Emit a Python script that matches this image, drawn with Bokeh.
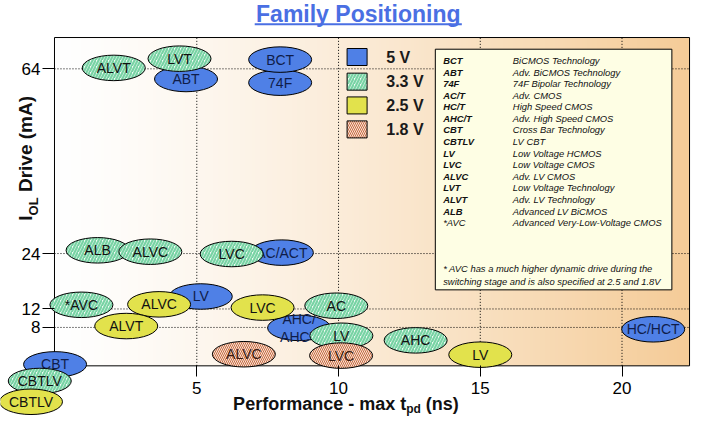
import numpy as np
from bokeh.plotting import figure
from bokeh.models import Range1d, FixedTicker, ColumnDataSource
from bokeh.core.properties import value
from bokeh.embed import file_html
from bokeh.resources import INLINE

# ---------------- data ----------------
TITLE = "Family Positioning"
X_TICKS = [5, 10, 15, 20]
Y_TICKS = [8, 12, 24, 64]
VOLTAGES = ["5 V", "3.3 V", "2.5 V", "1.8 V"]

FAM_5V = ["74F", "BCT", "ABT", "AC/ACT", "LV", "AHC/\nAHCT", "HC/HCT", "CBT"]
TPD_5V = [7.94, 7.94, 4.62, 8.0, 5.14, 8.61, 21.1, 0.0]
IOL_5V = [61.0, 66.0, 61.8, 24.2, 14.7, 7.9, 7.6, 0.0]

FAM_33V = ["ALVT", "LVT", "ALB", "ALVC", "LVC", "*AVC", "AC", "LV", "AHC", "CBTLV"]
TPD_33V = [2.07, 4.39, 1.50, 3.36, 6.23, 0.93, 9.92, 10.1, 12.72, -0.54]
IOL_33V = [64.2, 66.2, 24.7, 24.4, 23.9, 12.9, 12.7, 6.2, 5.2, -3.6]

FAM_25V = ["ALVC", "ALVT", "LVC", "LV", "CBTLV"]
TPD_25V = [3.67, 2.51, 7.32, 15.0, -0.85]
IOL_25V = [13.0, 8.3, 12.3, 2.1, -8.1]

FAM_18V = ["ALVC", "LVC"]
TPD_18V = [6.66, 10.09]
IOL_18V = [2.2, 1.9]

ABBREV = ["BCT", "ABT", "74F", "AC/T", "HC/T", "AHC/T", "CBT", "CBTLV", "LV", "LVC",
          "ALVC", "LVT", "ALVT", "ALB"]
ABBREV_NOTE = ["*AVC"]
MEANING = ["BiCMOS Technology", "Adv. BiCMOS Technology", "74F Bipolar Technology",
           "Adv. CMOS", "High Speed CMOS", "Adv. High Speed CMOS", "Cross Bar Technology",
           "LV CBT", "Low Voltage HCMOS", "Low Voltage CMOS", "Adv. LV CMOS",
           "Low Voltage Technology", "Adv. LV Technology", "Advanced LV BiCMOS",
           "Advanced Very-Low-Voltage CMOS"]
NOTE = ["* AVC has a much higher dynamic drive during the",
        "switching stage and is also specified at 2.5 and 1.8V"]
X_TITLE = ["Performance - max t", "pd", "(ns)"]
Y_TITLE = ["I", "OL", "Drive (mA)"]

# ---------------- layout helpers ----------------
W, H = 691, 416
REF_W, REF_H = 704, 427
KY = H / REF_H


def DX(rx):  # reference-picture px -> data x
    return (rx - 55.6) / 28.88


def DY(ry):  # reference-picture px -> data y
    return (373.5 - ry) / 4.74


BOX_L, BOX_R, BOX_T, BOX_B = DX(55), DX(702), DY(38), DY(375)
FONT = "Liberation Sans"
EW, EH = 63, 25.5

STYLES = {
    "5 V": dict(fill_color="#4f80e6"),
    "3.3 V": dict(fill_color="#f2fbf6", hatch_pattern="/", hatch_color="#78d3a4",
                  hatch_scale=6, hatch_weight=2.2),
    "2.5 V": dict(fill_color="#e2e24c"),
    "1.8 V": dict(fill_color="#fbe3d2", hatch_pattern="\\", hatch_color="#c46a45",
                  hatch_scale=4, hatch_weight=1),
}
TEXT_COL = {"5 V": "#0f1d4a", "3.3 V": "#111111", "2.5 V": "#111111", "1.8 V": "#3a1a10"}

p = figure(width=W, height=H, output_backend="svg", toolbar_location=None,
           x_range=Range1d(DX(0), DX(REF_W)), y_range=Range1d(DY(REF_H), DY(0)),
           min_border=0, min_border_left=0, min_border_right=0, min_border_top=0,
           min_border_bottom=0, background_fill_color="white",
           border_fill_color="white", outline_line_color=None)
p.grid.visible = False

# gradient plot-area background
n = 256
t = np.linspace(0, 1, n) ** 1.25
c0 = np.array([255, 255, 255]); c1 = np.array([245, 204, 152])
rgb = (c0[None, :] * (1 - t[:, None]) + c1[None, :] * t[:, None]).astype(np.uint32)
img = np.zeros((1, n), dtype=np.uint32)
img[0, :] = (255 << 24) | (rgb[:, 2] << 16) | (rgb[:, 1] << 8) | rgb[:, 0]
p.image_rgba(image=[img], x=BOX_L, y=BOX_B, dw=BOX_R - BOX_L, dh=BOX_T - BOX_B)

# dotted grid lines, limited to the plot box
p.segment(x0=X_TICKS, x1=X_TICKS, y0=[BOX_B] * len(X_TICKS), y1=[BOX_T] * len(X_TICKS),
          line_color="black", line_dash="1 2", line_width=1)
p.segment(x0=[BOX_L] * len(Y_TICKS), x1=[BOX_R] * len(Y_TICKS), y0=Y_TICKS, y1=Y_TICKS,
          line_color="black", line_dash="1 2", line_width=1)
# plot box outline (also the axis lines)
p.quad(left=[BOX_L], right=[BOX_R], top=[BOX_T], bottom=[BOX_B], fill_color=None,
       line_color="black", line_width=1)

# axes fixed at the plot box edges
p.xaxis.ticker = FixedTicker(ticks=X_TICKS)
p.yaxis.ticker = FixedTicker(ticks=Y_TICKS)
p.xaxis.fixed_location = BOX_B
p.yaxis.fixed_location = BOX_L
p.xaxis.bounds = (BOX_L, BOX_R)
p.yaxis.bounds = (BOX_B, BOX_T)
for ax in (p.xaxis, p.yaxis):
    ax.minor_tick_line_color = None
    ax.major_tick_in = 0
    ax.axis_line_color = None
    ax.major_tick_line_color = "black"
    ax.major_label_text_font = FONT
    ax.major_label_text_font_size = "17px"
    ax.major_label_text_color = "black"
p.xaxis.major_tick_out = 11
p.xaxis.major_label_standoff = 5
p.yaxis.major_tick_out = 12
p.yaxis.major_label_standoff = 2

# info box
p.quad(left=[DX(443)], right=[DX(684)], top=[DY(50)], bottom=[DY(297)],
       fill_color="#fefee4", line_color="black", line_width=1)
nrow = len(MEANING)
row_y = [DY(61.5 + i * 11.9) for i in range(nrow)]
box_txt = dict(text_font=value(FONT), text_font_size="9.4px", text_baseline="middle",
               text_color="#111111")
p.text(x=[DX(451)] * len(ABBREV), y=row_y[:len(ABBREV)], text=ABBREV,
       text_font_style="bold italic", **box_txt)
p.text(x=[DX(451)], y=row_y[len(ABBREV):], text=ABBREV_NOTE, text_font_style="italic",
       **box_txt)
p.text(x=[DX(522)] * nrow, y=row_y, text=MEANING, text_font_style="italic", **box_txt)
p.text(x=[DX(451)] * 2, y=[DY(275), DY(288)], text=NOTE, text_font_style="italic",
       **box_txt)

# family ellipses, one layer per supply voltage
groups = [("5 V", FAM_5V, TPD_5V, IOL_5V), ("3.3 V", FAM_33V, TPD_33V, IOL_33V),
          ("2.5 V", FAM_25V, TPD_25V, IOL_25V), ("1.8 V", FAM_18V, TPD_18V, IOL_18V)]
for volt, names, xs, ys in groups:
    src = ColumnDataSource(dict(x=xs, y=ys, name=names))
    p.ellipse(x="x", y="y", width=EW, height=EH, width_units="screen",
              height_units="screen", source=src, line_color="black", line_width=1,
              **STYLES[volt])
    p.text(x="x", y="y", text="name", source=src, text_align="center",
           text_baseline="middle", text_font=value(FONT), text_font_size="14px",
           text_color=TEXT_COL[volt], text_line_height=1.1)

# voltage key
key_y = [DY(58), DY(83.3), DY(107.7), DY(132.3)]
for volt, ky in zip(VOLTAGES, key_y):
    p.rect(x=[DX(363.3)], y=[ky], width=20, height=17, width_units="screen",
           height_units="screen", line_color="black", line_width=1, **STYLES[volt])
p.text(x=[DX(393)] * len(VOLTAGES), y=key_y, text=VOLTAGES, text_font=value(FONT),
       text_font_size="16px", text_font_style="bold", text_baseline="middle",
       text_color="#1a1a1a")

# title with underline
p.text(x=[DX(364.5)], y=[DY(13.4)], text=[TITLE], text_align="center",
       text_baseline="middle", text_font=value(FONT), text_font_size="23px",
       text_font_style="bold", text_color="#4a6fe3")
p.segment(x0=[DX(259)], x1=[DX(470)], y0=[DY(24.5)], y1=[DY(24.5)],
          line_color="#4a6fe3", line_width=2)

# x axis title with subscript
w1 = 9.614 * 18
w2 = 1.222 * 12
sp = 0.278 * 18
xt = dict(text_font=value(FONT), text_font_style="bold", text_baseline="middle",
          text_color="#111111")
p.text(x=[DX(237)], y=[DY(414.3)], text=[X_TITLE[0]], text_font_size="18px", **xt)
p.text(x=[DX(237)], y=[DY(419.8)], text=[X_TITLE[1]], x_offset=w1, text_font_size="12px",
       **xt)
p.text(x=[DX(237)], y=[DY(414.3)], text=[X_TITLE[2]], x_offset=w1 + w2 + sp,
       text_font_size="18px", **xt)

# y axis title with subscript (rotated)
a = np.pi / 2
h1 = 0.278 * 19 / KY
h2 = (1.389 * 13 + 0.278 * 19) / KY
p.text(x=[DX(25.8)], y=[DY(226)], text=[Y_TITLE[0]], angle=a, text_font_size="19px", **xt)
p.text(x=[DX(33.3)], y=[DY(226 - h1)], text=[Y_TITLE[1]], angle=a, text_font_size="13px",
       **xt)
p.text(x=[DX(25.8)], y=[DY(226 - h1 - h2)], text=[Y_TITLE[2]], angle=a,
       text_font_size="19px", **xt)

open("out.html", "w").write(file_html(p, INLINE))
